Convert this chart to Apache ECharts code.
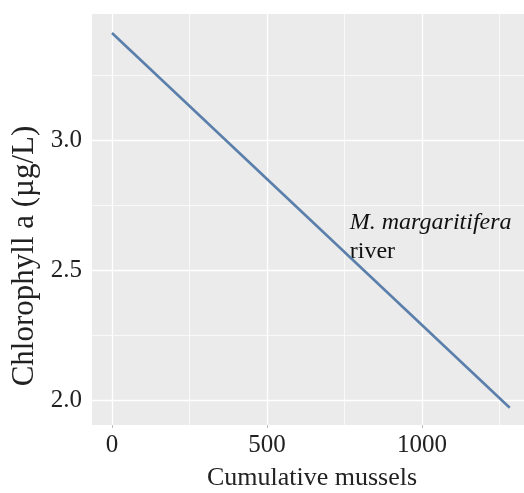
<!DOCTYPE html>
<html><head><meta charset="utf-8">
<script src="https://cdn.jsdelivr.net/npm/echarts@6/dist/echarts.min.js"></script>
<style>html,body{margin:0;padding:0;background:#fff}#c{width:524px;height:493px}</style>
</head><body><div id="c"></div>
<script>
const xValues = [0, 1283];
const yValues = [3.414, 1.973];
const xTicks = [0, 500, 1000];
const yTicks = [2.0, 2.5, 3.0];
const xMinorGrid = [250, 750, 1250];
const yMinorGrid = [2.25, 2.75, 3.25];
const xTitle = 'Cumulative mussels';
const yTitle = 'Chlorophyll a (µg/L)';
const noteLines = ['M. margaritifera', 'river'];

const chart = echarts.init(document.getElementById('c'));
const font = 'Liberation Serif';
const gridLines = [];
xTicks.forEach(v => gridLines.push({xAxis: v, lineStyle: {width: 1.3}}));
yTicks.forEach(v => gridLines.push({yAxis: v, lineStyle: {width: 1.3}}));
xMinorGrid.forEach(v => gridLines.push({xAxis: v, lineStyle: {width: 0.7}}));
yMinorGrid.forEach(v => gridLines.push({yAxis: v, lineStyle: {width: 0.7}}));

chart.setOption({
  animation: false,
  grid: {left: 92, right: 0, top: 14, bottom: 68, show: true, backgroundColor: '#ebebeb', borderWidth: 0,
    outerBoundsMode: 'none', containLabel: false},
  graphic: [{
    type: 'text', x: 25, y: 256, rotation: Math.PI / 2,
    style: {text: yTitle, fill: '#222', font: '31px "Liberation Serif"', align: 'center', verticalAlign: 'middle'}
  }],
  xAxis: {
    type: 'value', min: -64.5, max: 1329,
    axisLine: {show: false},
    splitLine: {show: false},
    axisTick: {show: true, customValues: xTicks, length: 3, lineStyle: {color: '#bbb'}},
    axisLabel: {customValues: xTicks, color: '#222', fontFamily: font, fontSize: 25, margin: 8,
      formatter: v => String(v)},
    name: xTitle, nameLocation: 'middle', nameGap: 40,
    nameTextStyle: {color: '#222', fontFamily: font, fontSize: 26, padding: [0, 0, 0, 8]}
  },
  yAxis: {
    type: 'value', min: 1.9065, max: 3.487,
    axisLine: {show: false},
    splitLine: {show: false},
    axisTick: {show: true, customValues: yTicks, length: 3, lineStyle: {color: '#bbb'}},
    axisLabel: {customValues: yTicks, color: '#222', fontFamily: font, fontSize: 25, margin: 10,
      formatter: v => v.toFixed(1)}
  },
  series: [{
    type: 'line',
    data: xValues.map((x, i) => [x, yValues[i]]),
    showSymbol: false,
    lineStyle: {color: '#5b7fab', width: 2.6},
    z: 5,
    markLine: {
      silent: true, symbol: 'none', label: {show: false},
      lineStyle: {color: '#ffffff', type: 'solid'},
      data: gridLines, z: 1
    },
    markPoint: {
      symbol: 'circle', symbolSize: 0, silent: true,
      itemStyle: {color: 'transparent'},
      data: [{coord: [767, 2.628], label: {show: true, position: 'right', distance: 0,
        formatter: '{a|' + noteLines[0] + '}\n{b|' + noteLines[1] + '}',
        rich: {
          a: {fontFamily: font, fontStyle: 'italic', fontSize: 24, color: '#111', lineHeight: 29},
          b: {fontFamily: font, fontSize: 24, color: '#111', lineHeight: 29}
        }}}]
    }
  }]
});
</script></body></html>
